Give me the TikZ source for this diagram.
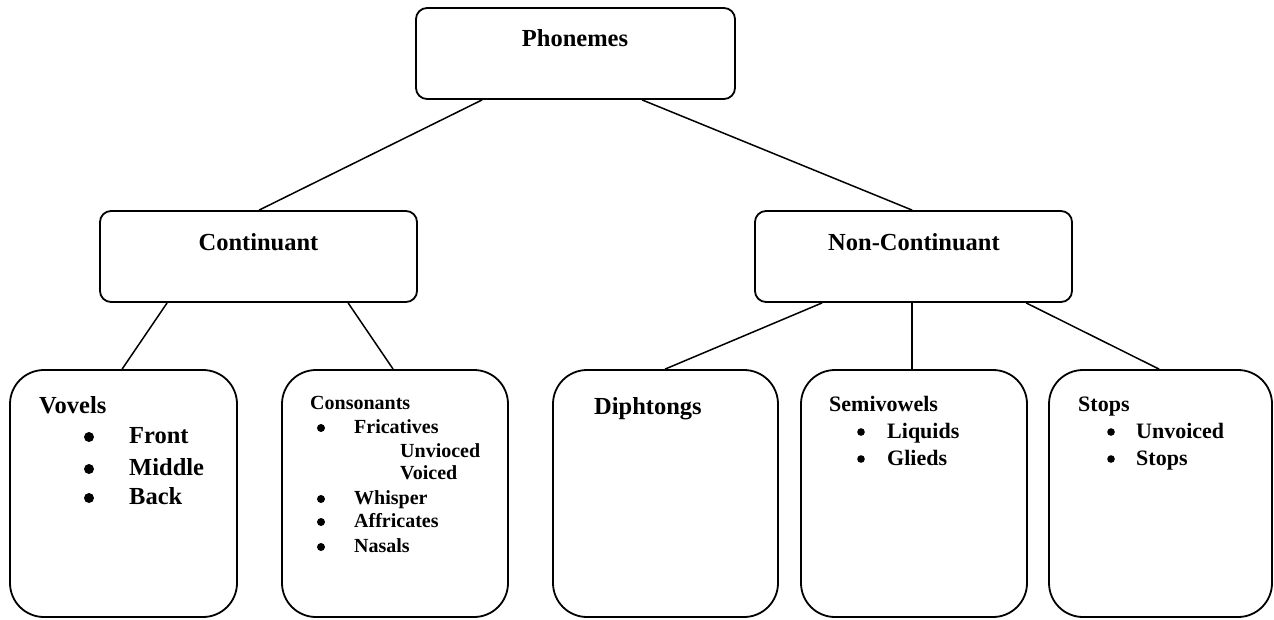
\documentclass[tikz,border=0pt]{standalone}
\usepackage{fontspec}
\setmainfont{Liberation Serif}
\usetikzlibrary{calc}
\begin{document}
\begin{tikzpicture}[x=1pt,y=-1pt,
  headbox/.style={draw, line width=1.8pt, rounded corners=11pt, inner sep=0pt, minimum height=91pt},
  leafbox/.style={draw, line width=1.8pt, rounded corners=34pt, inner sep=0pt, minimum height=247pt},
  link/.style={line width=1.5pt},
  headtxt/.style={font=\fontsize{24.5}{29}\selectfont\bfseries, inner sep=0pt, anchor=base},
  bigtxt/.style={font=\fontsize{24.5}{29}\selectfont\bfseries, inner sep=0pt, anchor=base west},
  midtxt/.style={font=\fontsize{22}{26}\selectfont\bfseries, inner sep=0pt, anchor=base west},
  smalltxt/.style={font=\fontsize{20}{24}\selectfont\bfseries, inner sep=0pt, anchor=base west},
  dot/.style={fill=black}]
\fill[white] (0,0) rectangle (1274,619);
\useasboundingbox (0,0) rectangle (1274,619);

% boxes
\node[headbox, minimum width=319pt] (phon) at (575.5,53.5) {};
\node[headbox, minimum width=317pt] (cont) at (258.5,256.5) {};
\node[headbox, minimum width=317pt] (ncont) at (913.5,256.5) {};
\node[leafbox, minimum width=227pt] (vov) at (123.5,493.5) {};
\node[leafbox, minimum width=226pt] (cons) at (395,493.5) {};
\node[leafbox, minimum width=225pt] (diph) at (665.5,493.5) {};
\node[leafbox, minimum width=226pt] (semi) at (914,493.5) {};
\node[leafbox, minimum width=223pt] (stop) at (1160.5,493.5) {};

% box titles
\node[headtxt] (phont) at (575,46) {Phonemes};
\node[headtxt] (contt) at (258.5,250) {Continuant};
\node[headtxt] (ncontt) at (914,250) {Non-Continuant};

% connectors
\draw[link] ($(phon.south west)+(67,0)$) -- ($(cont.north west)+(160,0)$);
\draw[link] ($(phon.south west)+(227,0)$) -- ($(ncont.north west)+(158,0)$);
\draw[link] ($(cont.south west)+(68,0)$) -- ($(vov.north west)+(113,0)$);
\draw[link] ($(cont.south west)+(249,0)$) -- ($(cons.north west)+(112,0)$);
\draw[link] ($(ncont.south west)+(68,0)$) -- ($(diph.north west)+(113,0)$);
\draw[link] ($(ncont.south west)+(158,0)$) -- ($(semi.north west)+(112,0)$);
\draw[link] ($(ncont.south west)+(272,0)$) -- ($(stop.north west)+(111,0)$);

% vowels
\node[bigtxt] (v0) at (39,413) {Vovels};
\node[bigtxt] (v1) at (129,443) {Front};
\node[bigtxt] (v2) at (129,475) {Middle};
\node[bigtxt] (v3) at (129,504) {Back};
\fill[dot] (89,437) circle (5pt);
\fill[dot] (89,469) circle (5pt);
\fill[dot] (89,498) circle (5pt);

% consonants
\node[smalltxt] (c0) at (310,409) {Consonants};
\node[smalltxt] (c1) at (354,433) {Fricatives};
\node[smalltxt] (c2) at (400,457) {Unvioced};
\node[smalltxt] (c3) at (400,479) {Voiced};
\node[smalltxt] (c4) at (354,504) {Whisper};
\node[smalltxt] (c5) at (354,527) {Affricates};
\node[smalltxt] (c6) at (354,552) {Nasals};
\fill[dot] (321,428) circle (4pt);
\fill[dot] (321,499) circle (4pt);
\fill[dot] (321,522) circle (4pt);
\fill[dot] (321,547) circle (4pt);

% diphthongs
\node[bigtxt] (d0) at (594,414) {Diphtongs};

% semivowels
\node[midtxt] (s0) at (829,411) {Semivowels};
\node[midtxt] (s1) at (887,438) {Liquids};
\node[midtxt] (s2) at (887,465) {Glieds};
\fill[dot] (861,432) circle (3.8pt);
\fill[dot] (861,459) circle (3.8pt);

% stops
\node[midtxt] (t0) at (1078,411) {Stops};
\node[midtxt] (t1) at (1136,438) {Unvoiced};
\node[midtxt] (t2) at (1136,465) {Stops};
\fill[dot] (1111,432) circle (3.8pt);
\fill[dot] (1111,459) circle (3.8pt);
\end{tikzpicture}
\end{document}
